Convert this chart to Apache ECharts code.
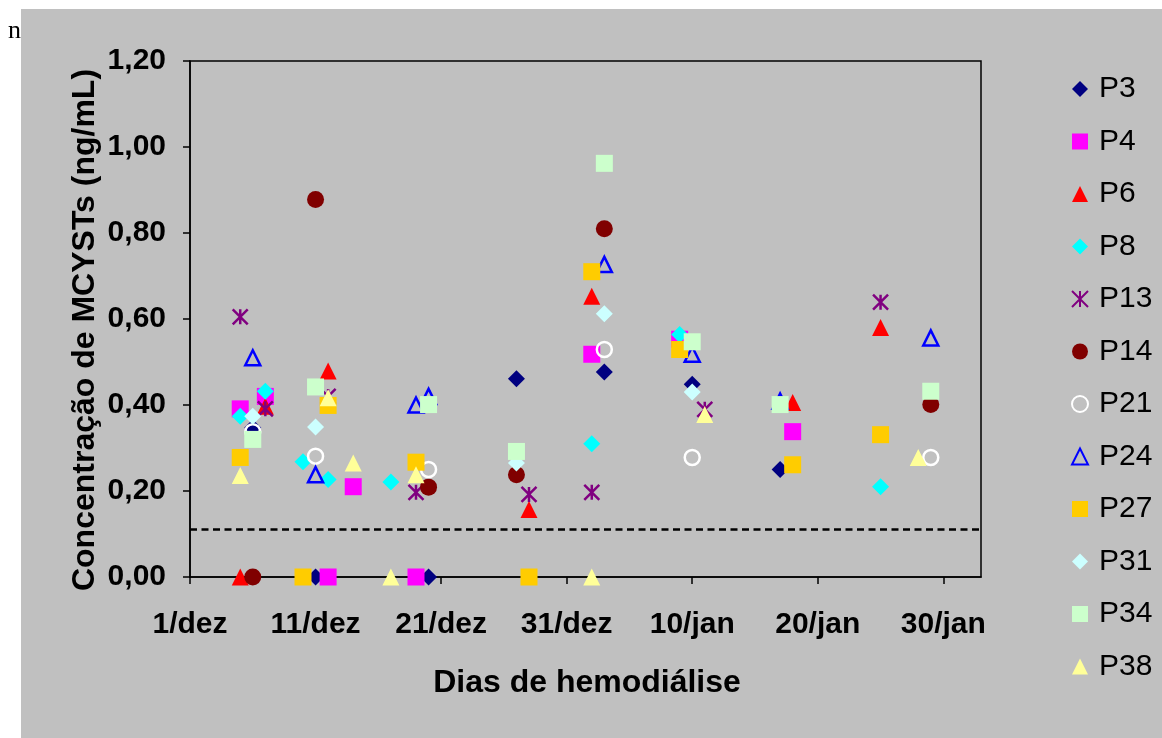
<!DOCTYPE html>
<html>
<head>
<meta charset="utf-8">
<script src="https://cdn.jsdelivr.net/npm/echarts@6/dist/echarts.min.js"></script>
<style>
  html, body { margin: 0; padding: 0; background: #fff; }
  #chart { width: 1162px; height: 738px; }
</style>
</head>
<body>
<div id="chart"></div>
<script>
// X values are days counted from 1 December (0 = 1/dez).
const tickDays   = [0, 10, 20, 30, 40, 50, 60];
const tickLabels = ['1/dez', '11/dez', '21/dez', '31/dez', '10/jan', '20/jan', '30/jan'];
const detectionLimit = 0.11;

// [day, concentration in ng/mL] per patient
const P3  = [[5, 0.347], [10, 0], [19, 0], [26, 0.461], [33, 0.477], [40, 0.448], [47, 0.25]];
const P4  = [[4, 0.391], [6, 0.42], [11, 0], [13, 0.21], [18, 0], [32, 0.518], [39, 0.553], [48, 0.338]];
const P6  = [[4, 0], [6, 0.397], [11, 0.479], [27, 0.157], [32, 0.653], [48, 0.406], [55, 0.58]];
const P8  = [[4, 0.374], [6, 0.432], [9, 0.268], [11, 0.227], [16, 0.221], [32, 0.31], [39, 0.564], [55, 0.21]];
const P13 = [[4, 0.605], [6, 0.391], [11, 0.42], [18, 0.197], [27, 0.192], [32, 0.197], [41, 0.39], [55, 0.639]];
const P14 = [[5, 0], [10, 0.878], [19, 0.209], [26, 0.238], [33, 0.81], [59, 0.401]];
const P21 = [[5, 0.338], [10, 0.281], [19, 0.25], [33, 0.529], [40, 0.278], [59, 0.278]];
const P24 = [[5, 0.51], [10, 0.238], [18, 0.40], [19, 0.42], [33, 0.727], [40, 0.518], [47, 0.409], [59, 0.556]];
const P27 = [[4, 0.278], [9, 0], [11, 0.399], [18, 0.267], [27, 0], [32, 0.71], [39, 0.529], [48, 0.261], [55, 0.331]];
const P31 = [[5, 0.374], [10, 0.349], [26, 0.265], [33, 0.612], [40, 0.43]];
const P34 = [[5, 0.32], [10, 0.442], [19, 0.401], [26, 0.292], [33, 0.962], [40, 0.547], [47, 0.401], [59, 0.432]];
const P38 = [[4, 0.236], [11, 0.417], [13, 0.265], [16, 0], [18, 0.238], [32, 0], [41, 0.378], [58, 0.278]];

const ASTERISK = 'path://M5,0L5,10M0,0L10,10M10,0L0,10';
const CLEAR = 'rgba(0,0,0,0)';

const seriesDefs = [
  { name: 'P3',  data: P3,  symbol: 'diamond',  fill: '#000080' },
  { name: 'P4',  data: P4,  symbol: 'rect',     fill: '#FF00FF' },
  { name: 'P6',  data: P6,  symbol: 'triangle', fill: '#FF0000' },
  { name: 'P8',  data: P8,  symbol: 'diamond',  fill: '#00FFFF' },
  { name: 'P13', data: P13, symbol: ASTERISK,   fill: CLEAR, stroke: '#800080', size: 15 },
  { name: 'P14', data: P14, symbol: 'circle',   fill: '#800000' },
  { name: 'P21', data: P21, symbol: 'circle',   fill: CLEAR, stroke: '#FFFFFF', size: 15 },
  { name: 'P24', data: P24, symbol: 'triangle', fill: CLEAR, stroke: '#0000FF', size: 15 },
  { name: 'P27', data: P27, symbol: 'rect',     fill: '#FFCC00' },
  { name: 'P31', data: P31, symbol: 'diamond',  fill: '#CCFFFF' },
  { name: 'P34', data: P34, symbol: 'rect',     fill: '#CCFFCC' },
  { name: 'P38', data: P38, symbol: 'triangle', fill: '#FFFF99' }
];

const FONT = '"Liberation Sans", Arial, sans-serif';

const series = seriesDefs.map(d => ({
  type: 'scatter',
  name: d.name,
  data: d.data,
  symbol: d.symbol,
  symbolSize: d.size || 17,
  itemStyle: {
    color: d.fill,
    borderColor: d.stroke || CLEAR,
    borderWidth: d.stroke ? 2.5 : 0,
    opacity: 1
  },
  emphasis: { disabled: true }
}));

// dashed reference line for the detection limit
series.push({
  type: 'line',
  name: 'limite',
  data: [],
  silent: true,
  markLine: {
    silent: true,
    symbol: 'none',
    label: { show: false },
    lineStyle: { color: '#000', type: [7, 4.5], width: 2.5 },
    data: [{ yAxis: detectionLimit }]
  }
});

const chart = echarts.init(document.getElementById('chart'), null, { renderer: 'canvas' });
chart.setOption({
  backgroundColor: '#FFFFFF',
  animation: false,
  textStyle: { fontFamily: FONT },
  graphic: [
    { type: 'rect', z: -100, shape: { x: 21, y: 9, width: 1141, height: 729 }, style: { fill: '#C0C0C0' } },
    { type: 'text', z: 10, x: 8, y: 44, style: { text: 'n', font: '26px "Liberation Serif", "Times New Roman", serif', fill: '#000', textVerticalAlign: 'bottom' } },
    { type: 'text', z: 10, x: 587, y: 683, style: { text: 'Dias de hemodiálise', font: 'bold 32px ' + FONT, fill: '#000', textAlign: 'center', textVerticalAlign: 'middle' } },
    { type: 'text', z: 10, x: 85, y: 330, rotation: Math.PI / 2, style: { text: 'Concentração de MCYSTs (ng/mL)', font: 'bold 32px ' + FONT, fill: '#000', textAlign: 'center', textVerticalAlign: 'middle' } }
  ],
  grid: {
    left: 190, top: 61, right: 181, bottom: 161,
    show: true, borderColor: '#000', borderWidth: 1.5, backgroundColor: 'transparent'
  },
  legend: {
    orient: 'vertical',
    left: 1066,
    top: 69,
    itemWidth: 16,
    itemHeight: 16,
    itemGap: 22.5,
    selectedMode: false,
    textStyle: { fontFamily: FONT, fontSize: 30, color: '#000', padding: [0, 0, 0, 6] },
    data: seriesDefs.map(d => d.name)
  },
  xAxis: {
    type: 'value',
    min: 0,
    max: 63,
    splitLine: { show: false },
    axisLine: { lineStyle: { color: '#000', width: 1.5 } },
    axisTick: { show: true, inside: false, length: 7, lineStyle: { color: '#000', width: 1.5 }, customValues: tickDays },
    axisLabel: {
      customValues: tickDays,
      margin: 33,
      fontSize: 30,
      fontWeight: 'bold',
      color: '#000',
      fontFamily: FONT,
      formatter: v => { const i = tickDays.indexOf(v); return i >= 0 ? tickLabels[i] : ''; }
    }
  },
  yAxis: {
    type: 'value',
    min: 0,
    max: 1.2,
    interval: 0.2,
    splitLine: { show: false },
    axisLine: { show: true, lineStyle: { color: '#000', width: 1.5 } },
    axisTick: { show: true, inside: false, length: 7, lineStyle: { color: '#000', width: 1.5 } },
    axisLabel: {
      margin: 24,
      fontSize: 30,
      fontWeight: 'bold',
      color: '#000',
      fontFamily: FONT,
      formatter: v => v.toFixed(2).replace('.', ',')
    }
  },
  series: series
});
</script>
</body>
</html>
